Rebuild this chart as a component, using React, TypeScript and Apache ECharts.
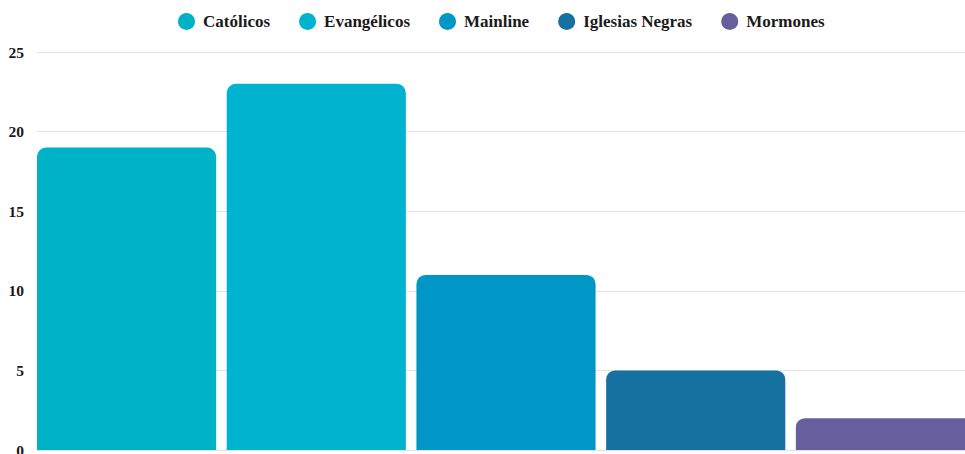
import React, { useEffect, useRef } from "react";
import * as echarts from "echarts";

const seriesNames = ["Católicos", "Evangélicos", "Mainline", "Iglesias Negras", "Mormones"];
const seriesValues = [19, 23, 11, 5, 2];
const seriesColors = ["#00B2C6", "#00B4D0", "#0096C6", "#1571A0", "#675E9E"];
const yTicks = [0, 5, 10, 15, 20, 25];

export default function App() {
  const ref = useRef<HTMLDivElement>(null);
  useEffect(() => {
    document.body.style.margin = "0";
    const chart = echarts.init(ref.current!, null, { renderer: "svg" });
    const font = "'Liberation Serif', 'DejaVu Serif', serif";
    chart.setOption({
      animation: false,
      legend: {
        top: 8,
        left: 173,
        itemWidth: 17,
        itemHeight: 17,
        itemGap: 29,
        icon: "circle",
        textStyle: { fontFamily: font, fontWeight: "bold", fontSize: 17, color: "#1a1a1a", padding: [0, 0, 0, 3] },
        data: seriesNames,
      },
      grid: { left: 37, top: 52, width: 938, bottom: 4, containLabel: false, outerBoundsMode: "none" },
      xAxis: {
        type: "category",
        data: [""],
        axisLine: { show: false },
        axisTick: { show: false },
        axisLabel: { show: false },
      },
      yAxis: {
        type: "value",
        min: yTicks[0],
        max: yTicks[yTicks.length - 1],
        interval: 5,
        axisLine: { show: false },
        axisTick: { show: false },
        axisLabel: { margin: 13, fontFamily: font, fontWeight: "bold", fontSize: 15.5, color: "#1a1a1a" },
        splitLine: { lineStyle: { color: "#e2e2e2", width: 1 } },
      },
      series: seriesNames.map((name, i) => ({
        name,
        type: "bar",
        data: [seriesValues[i]],
        barGap: "5.9%",
        barCategoryGap: 0,
        itemStyle: { color: seriesColors[i], borderRadius: [9, 9, 0, 0] },
      })),
    });
    return () => chart.dispose();
  }, []);
  return <div ref={ref} style={{ width: 965, height: 454 }} />;
}
